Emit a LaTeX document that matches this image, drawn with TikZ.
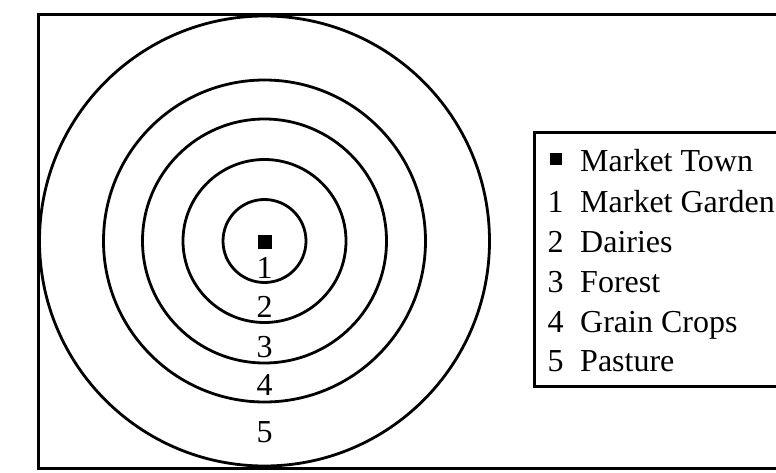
\documentclass[tikz,border=0pt]{standalone}
\usepackage{fontspec}
\setmainfont{Liberation Serif}
\tikzset{
  ring/.style={line width=2.8pt},
  frame/.style={line width=3pt},
  lbl/.style={inner sep=0pt, font=\fontsize{32}{38}\selectfont},
  mark box/.style={fill=black, draw=none}
}
\begin{document}
\begin{tikzpicture}[x=1pt,y=-1pt]
\useasboundingbox (0,0) rectangle (776,473);
\begin{scope}
\clip (0,0) rectangle (776,473);
% outer frame
\draw[frame] (38,15) rectangle (820,468);
% rings
\coordinate (c) at (264.5,241);
\foreach \r in {41.5,81.5,122,161,225}{
  \draw[ring] (c) circle[radius=\r];
}
\fill[mark box] (257.5,234.5) rectangle (271.5,249);
% ring labels
\node[lbl, anchor=base] (r1) at (264.5,278) {1};
\node[lbl, anchor=base] (r2) at (264.5,317) {2};
\node[lbl, anchor=base] (r3) at (264.5,357) {3};
\node[lbl, anchor=base] (r4) at (264.5,395) {4};
\node[lbl, anchor=base] (r5) at (264.5,442) {5};
% legend box
\draw[frame] (534,133) rectangle (820,386);
\fill[mark box] (550,153) rectangle (562,165);
\node[lbl, anchor=base west] (t0) at (580,172) {Market Town};
\node[lbl, anchor=base] (n1) at (555.5,212) {1};
\node[lbl, anchor=base west] (t1) at (580,212) {Market Garden};
\node[lbl, anchor=base] (n2) at (555.5,252) {2};
\node[lbl, anchor=base west] (t2) at (580,252) {Dairies};
\node[lbl, anchor=base] (n3) at (555.5,292) {3};
\node[lbl, anchor=base west] (t3) at (580,292) {Forest};
\node[lbl, anchor=base] (n4) at (555.5,332) {4};
\node[lbl, anchor=base west] (t4) at (580,332) {Grain Crops};
\node[lbl, anchor=base] (n5) at (555.5,371) {5};
\node[lbl, anchor=base west] (t5) at (580,371) {Pasture};
\end{scope}
\end{tikzpicture}
\end{document}
